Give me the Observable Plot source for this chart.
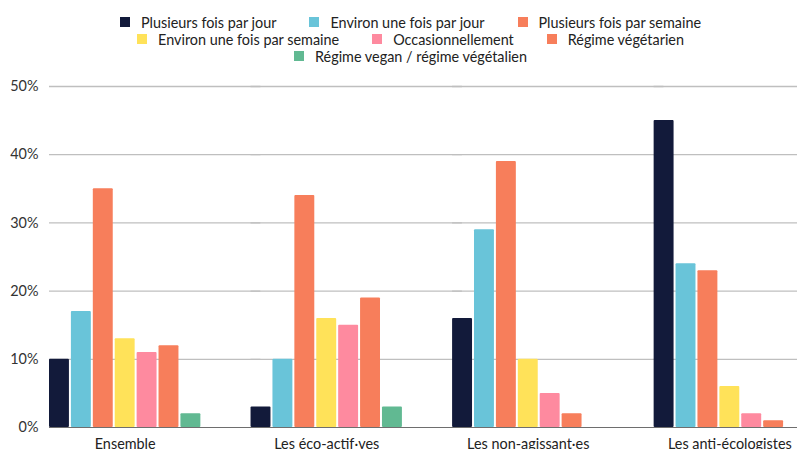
<!DOCTYPE html>
<html><head><meta charset="utf-8">
<script src="https://cdn.jsdelivr.net/npm/d3@7"></script>
<script src="https://cdn.jsdelivr.net/npm/@observablehq/plot@0.6"></script>
<style>
html,body{margin:0;padding:0;background:#fff;overflow:hidden;}
body{width:797px;height:449px;font-family:Lato,sans-serif;}
#legend{box-sizing:border-box;width:797px;height:68px;padding:13.5px 0 0 24px;display:flex;flex-wrap:wrap;justify-content:center;align-content:flex-start;column-gap:33px;font-size:14.4px;line-height:17px;color:#222;}
.item{display:flex;align-items:center;white-space:nowrap;}
.sw{width:10px;height:10px;margin-right:11px;flex:none;}
#chart{width:805px;}
#chart svg{display:block;overflow:hidden;max-width:none !important;width:805px !important;height:381px !important;}
</style></head><body>
<div id="legend"></div><div id="chart"></div>
<script>
const groups = ["Ensemble", "Les éco-actif·ves", "Les non-agissant·es", "Les anti-écologistes"];
const series = ["Plusieurs fois par jour", "Environ une fois par jour", "Plusieurs fois par semaine", "Environ une fois par semaine", "Occasionnellement", "Régime végétarien", "Régime vegan / régime végétalien"];
const colors = ["#121a3a", "#69c4d9", "#f77e5b", "#ffe259", "#fe8a9f", "#f77e5b", "#61b992"];
const ensemble = [10, 17, 35, 13, 11, 12, 2];
const ecoActifs = [3, 10, 34, 16, 15, 19, 3];
const nonAgissants = [16, 29, 39, 10, 5, 2, 0];
const antiEcologistes = [45, 24, 23, 6, 2, 1, 0];
const yTicks = [0, 10, 20, 30, 40, 50];

const valuesByGroup = [ensemble, ecoActifs, nonAgissants, antiEcologistes];
const rows = [];
groups.forEach((g, i) => series.forEach((s, j) => rows.push({group: g, series: s, value: valuesByGroup[i][j]})));

// legend
const legend = document.getElementById("legend");
series.forEach((s, i) => {
  const item = document.createElement("div");
  item.className = "item";
  const sw = document.createElement("span");
  sw.className = "sw";
  sw.style.background = colors[i];
  const t = document.createElement("span");
  t.textContent = s;
  item.append(sw, t);
  legend.append(item);
});

const chart = Plot.plot({
  width: 805, height: 381, marginTop: 18, marginBottom: 22, marginLeft: 49, marginRight: 0,
  style: {fontFamily: "Lato, sans-serif", fontSize: "14.4px", color: "#333", background: "white", maxWidth: "none"},
  fx: {domain: groups, paddingInner: 0.249, paddingOuter: 0, round: false, label: null},
  x: {domain: series, paddingInner: 0.09, paddingOuter: 0, round: false, axis: null},
  y: {domain: [0, 50], axis: null, label: null},
  color: {domain: series, range: colors},
  marks: [
    Plot.ruleY(yTicks.filter(d => d > 0), {stroke: "#bfbfbf", strokeWidth: 1.3, insetRight: -60}),
    Plot.barY(rows, {fx: "group", x: "series", y: "value", fill: "series", rx: 1}),
    Plot.ruleY([0], {stroke: "#6e6e6e", strokeWidth: 1, insetRight: -60}),
    Plot.axisY(yTicks, {tickSize: 0, tickPadding: 11, tickFormat: d => d + "%", color: "#333", fontSize: 14.4, label: null}),
    Plot.axisFx({anchor: "bottom", tickSize: 0, tickPadding: 11, color: "#222", fontSize: 14.4, label: null})
  ]
});
document.getElementById("chart").append(chart);
</script>
</body></html>
